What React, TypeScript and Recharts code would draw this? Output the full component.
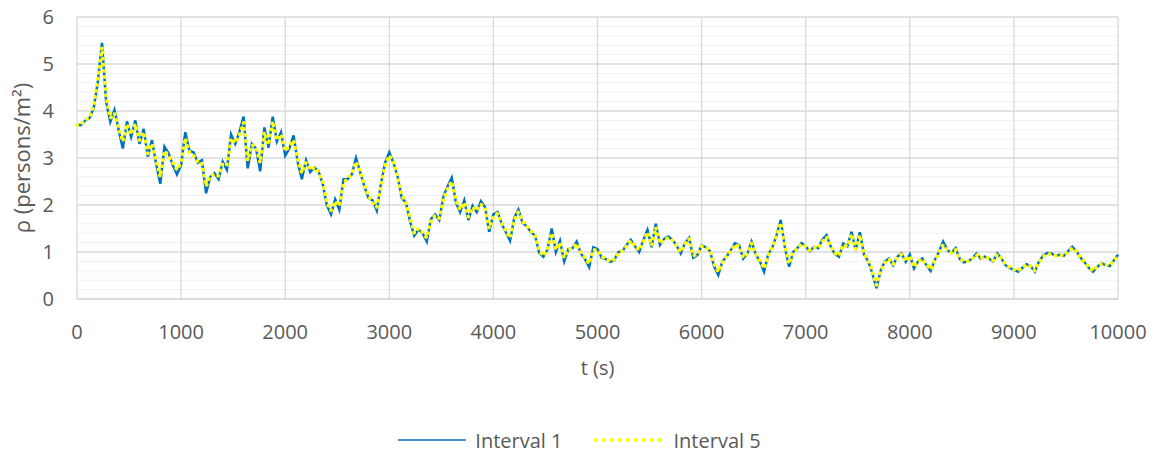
import { CartesianGrid, Legend, Line, LineChart, XAxis, YAxis } from "recharts"

// sampling step of both series, seconds
const timeStep = 40

// rho (persons/m2), one row = 400 s
const interval1 = [
  3.70, 3.70, 3.80, 3.85, 4.06, 4.62, 5.45, 4.20, 3.77, 4.02,
  3.60, 3.20, 3.78, 3.45, 3.80, 3.30, 3.62, 3.03, 3.38, 2.88,
  2.45, 3.24, 3.10, 2.85, 2.65, 2.85, 3.55, 3.15, 3.12, 2.90,
  2.95, 2.25, 2.60, 2.68, 2.55, 2.92, 2.75, 3.50, 3.30, 3.55,
  3.88, 2.78, 3.30, 3.20, 2.72, 3.65, 3.22, 3.88, 3.35, 3.55,
  3.05, 3.20, 3.48, 2.92, 2.55, 2.95, 2.70, 2.80, 2.72, 2.45,
  2.00, 1.80, 2.12, 1.90, 2.55, 2.55, 2.65, 3.00, 2.70, 2.40,
  2.15, 2.10, 1.88, 2.45, 2.90, 3.12, 2.90, 2.60, 2.15, 2.05,
  1.65, 1.35, 1.48, 1.40, 1.22, 1.70, 1.80, 1.68, 2.18, 2.40,
  2.58, 2.05, 1.85, 2.10, 1.68, 1.98, 1.85, 2.08, 1.95, 1.43,
  1.80, 1.85, 1.60, 1.42, 1.24, 1.72, 1.90, 1.62, 1.55, 1.42,
  1.35, 0.98, 0.90, 1.05, 1.50, 1.00, 1.24, 0.80, 1.06, 1.08,
  1.22, 0.97, 0.85, 0.68, 1.10, 1.06, 0.88, 0.85, 0.79, 0.82,
  1.00, 1.02, 1.15, 1.26, 1.12, 1.00, 1.25, 1.47, 1.10, 1.60,
  1.15, 1.28, 1.33, 1.26, 1.14, 0.97, 1.19, 1.30, 0.88, 0.94,
  1.14, 1.10, 1.02, 0.70, 0.51, 0.80, 0.90, 1.04, 1.19, 1.14,
  0.86, 0.97, 1.22, 0.95, 0.80, 0.58, 0.95, 1.10, 1.36, 1.68,
  1.10, 0.69, 1.00, 1.08, 1.19, 1.12, 1.02, 1.11, 1.08, 1.26,
  1.36, 1.12, 0.96, 0.90, 1.18, 1.12, 1.43, 1.04, 1.42, 0.95,
  0.80, 0.55, 0.23, 0.60, 0.80, 0.86, 0.72, 0.90, 0.97, 0.79,
  0.95, 0.65, 0.80, 0.86, 0.72, 0.60, 0.83, 1.00, 1.22, 1.04,
  0.98, 1.08, 0.85, 0.78, 0.80, 0.86, 0.97, 0.86, 0.90, 0.86,
  0.80, 0.97, 0.86, 0.72, 0.66, 0.62, 0.58, 0.66, 0.74, 0.70,
  0.58, 0.79, 0.92, 0.98, 0.97, 0.92, 0.94, 0.92, 1.02, 1.11,
  1.02, 0.88, 0.78, 0.66, 0.58, 0.68, 0.76, 0.72, 0.70, 0.82,
  0.94,
]

const interval5 = [
  3.70, 3.72, 3.82, 3.86, 4.10, 4.70, 5.35, 4.30, 3.85, 3.95,
  3.65, 3.35, 3.72, 3.50, 3.72, 3.38, 3.55, 3.10, 3.30, 2.95,
  2.60, 3.15, 3.05, 2.90, 2.75, 2.90, 3.42, 3.12, 3.05, 2.92,
  2.90, 2.40, 2.62, 2.66, 2.62, 2.88, 2.85, 3.42, 3.32, 3.48,
  3.75, 2.95, 3.28, 3.22, 2.90, 3.55, 3.28, 3.78, 3.38, 3.50,
  3.15, 3.25, 3.38, 2.98, 2.68, 2.90, 2.75, 2.80, 2.70, 2.50,
  2.05, 1.88, 2.08, 1.98, 2.48, 2.55, 2.68, 2.92, 2.72, 2.42,
  2.20, 2.05, 1.95, 2.40, 2.85, 3.05, 2.92, 2.58, 2.20, 2.05,
  1.72, 1.40, 1.50, 1.42, 1.30, 1.65, 1.78, 1.72, 2.12, 2.35,
  2.50, 2.10, 1.90, 2.05, 1.75, 1.95, 1.88, 2.02, 1.92, 1.50,
  1.75, 1.82, 1.62, 1.45, 1.30, 1.68, 1.85, 1.65, 1.55, 1.45,
  1.35, 1.02, 0.92, 1.05, 1.40, 1.05, 1.20, 0.88, 1.05, 1.08,
  1.18, 0.98, 0.88, 0.75, 1.05, 1.04, 0.90, 0.86, 0.80, 0.84,
  0.98, 1.02, 1.12, 1.24, 1.12, 1.04, 1.22, 1.42, 1.14, 1.52,
  1.18, 1.26, 1.30, 1.25, 1.14, 1.00, 1.18, 1.28, 0.92, 0.95,
  1.12, 1.10, 1.02, 0.75, 0.58, 0.78, 0.90, 1.02, 1.16, 1.12,
  0.88, 0.97, 1.18, 0.96, 0.82, 0.65, 0.92, 1.10, 1.33, 1.62,
  1.12, 0.75, 1.00, 1.06, 1.17, 1.12, 1.04, 1.10, 1.08, 1.22,
  1.32, 1.12, 0.98, 0.92, 1.15, 1.12, 1.38, 1.06, 1.36, 0.97,
  0.82, 0.58, 0.30, 0.58, 0.78, 0.85, 0.74, 0.88, 0.95, 0.80,
  0.92, 0.68, 0.80, 0.85, 0.74, 0.63, 0.82, 0.98, 1.15, 1.04,
  0.98, 1.05, 0.86, 0.80, 0.80, 0.86, 0.95, 0.87, 0.90, 0.86,
  0.82, 0.95, 0.86, 0.74, 0.68, 0.63, 0.60, 0.66, 0.73, 0.70,
  0.60, 0.78, 0.90, 0.96, 0.95, 0.92, 0.93, 0.92, 1.00, 1.08,
  1.02, 0.88, 0.79, 0.68, 0.60, 0.68, 0.75, 0.72, 0.72, 0.80,
  0.92,
]

const xTicks = [0, 1000, 2000, 3000, 4000, 5000, 6000, 7000, 8000, 9000, 10000]
const yTicks = [0, 1, 2, 3, 4, 5, 6]
const yMinor = [
  0.2, 0.4, 0.6, 0.8, 1.2, 1.4, 1.6, 1.8, 2.2, 2.4, 2.6, 2.8,
  3.2, 3.4, 3.6, 3.8, 4.2, 4.4, 4.6, 4.8, 5.2, 5.4, 5.6, 5.8,
]

const data = interval1.map((v, i) => ({ t: i * timeStep, i1: v, i5: interval5[i] }))

const font = "'Open Sans', sans-serif"
const textColor = "#595959"
const blue = "#0070c0"
const yellow = "#ffff00"

function ChartLegend() {
  return (
    <div style={{ display: "flex", justifyContent: "center", alignItems: "center", height: 24, fontFamily: font, fontSize: 20, color: textColor }}>
      <svg width={68} height={8}>
        <line x1={0} y1={4} x2={68} y2={4} stroke={blue} strokeWidth={1.5} />
      </svg>
      <span style={{ marginLeft: 9 }}>Interval 1</span>
      <svg width={72} height={8} style={{ marginLeft: 31 }}>
        <line x1={2} y1={4} x2={70} y2={4} stroke={yellow} strokeWidth={4} strokeLinecap="round" strokeDasharray="0.1 7.8" />
      </svg>
      <span style={{ marginLeft: 8 }}>Interval 5</span>
    </div>
  )
}

export default function App() {
  return (
    <div style={{ position: "absolute", left: 0, top: 0, background: "#fff" }}>
      <LineChart width={1159} height={456} data={data} margin={{ top: 17, right: 41, left: 0, bottom: 4 }}>
        <CartesianGrid vertical={false} horizontalValues={yMinor} stroke="#f0f0f0" strokeWidth={1} />
        <CartesianGrid horizontalValues={yTicks} verticalValues={xTicks} stroke="#d9d9d9" strokeWidth={1.3} />
        <XAxis
          dataKey="t"
          type="number"
          domain={[0, 10000]}
          ticks={xTicks}
          interval={0}
          height={129}
          tickSize={0}
          tickMargin={26}
          axisLine={{ stroke: "#d9d9d9", strokeWidth: 1.3 }}
          tick={{ fill: textColor, fontSize: 20, fontFamily: font }}
          label={{ value: "t (s)", position: "insideTop", offset: 62, fill: textColor, fontSize: 20, fontFamily: font }}
        />
        <YAxis
          type="number"
          domain={[0, 6]}
          ticks={yTicks}
          interval={0}
          width={77}
          tickSize={0}
          tickMargin={23}
          axisLine={false}
          tick={{ fill: textColor, fontSize: 20, fontFamily: font }}
          label={{ value: "ρ (persons/m²)", angle: -90, position: "insideLeft", offset: 22, textAnchor: "middle", style: { textAnchor: "middle" }, fill: textColor, fontSize: 22, fontFamily: font }}
        />
        <Legend verticalAlign="bottom" content={() => <ChartLegend />} wrapperStyle={{ left: 0, width: 1159 }} />
        <Line type="linear" dataKey="i1" name="Interval 1" stroke={blue} strokeWidth={2.5} dot={false} isAnimationActive={false} />
        <Line type="linear" dataKey="i5" name="Interval 5" stroke={yellow} strokeWidth={3.8} strokeLinecap="round" strokeDasharray="0.1 6" dot={false} isAnimationActive={false} />
      </LineChart>
    </div>
  )
}
